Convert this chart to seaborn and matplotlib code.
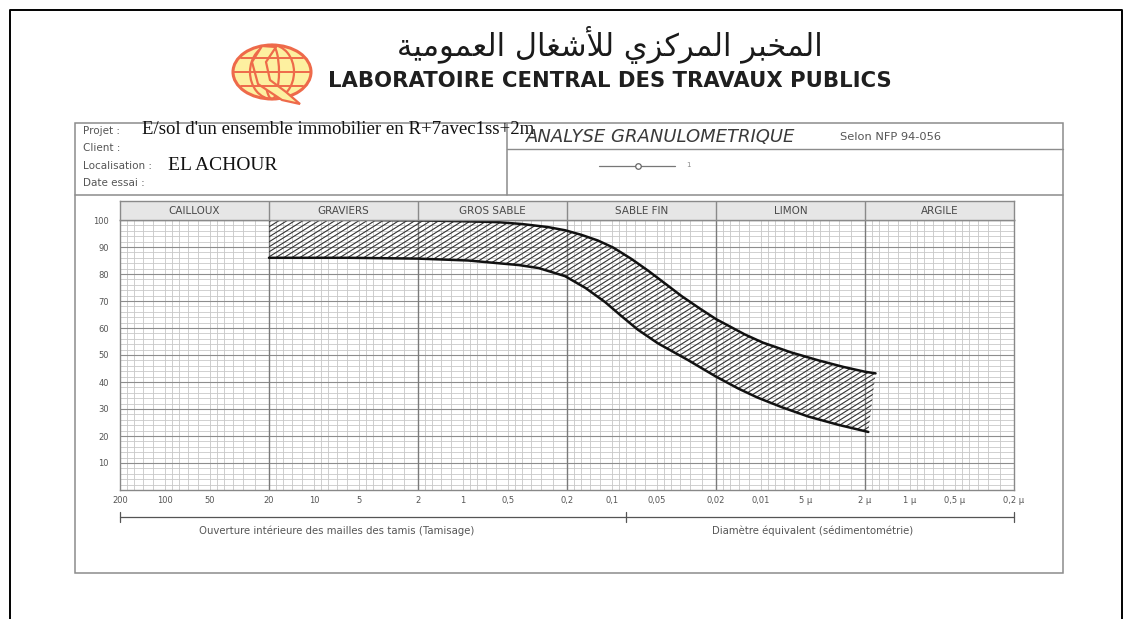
import numpy as np
import pandas as pd
import matplotlib
matplotlib.use("Agg")
import matplotlib.pyplot as plt
import seaborn as sns
from matplotlib.patches import Rectangle, Ellipse, Polygon
from matplotlib.collections import LineCollection
from matplotlib.ticker import NullLocator

# ---------------------------------------------------------------- data
# Grading envelope (fuseau granulométrique): sieve size in mm vs % passing
upper_size_mm = [20, 3.9, 1.7, 0.92, 0.58, 0.4, 0.27, 0.206, 0.16, 0.124, 0.098,
                 0.074, 0.057, 0.044, 0.034, 0.026, 0.02, 0.0128, 0.0097,
                 0.0063, 0.0041, 0.0028, 0.002, 0.0017]
upper_passing = [100, 100, 99.8, 99.5, 99.2, 98.5, 97.4, 96.2, 94.5, 92.4, 89.8,
                 85.6, 81.2, 76.5, 71.8, 67.4, 63.3, 57.6, 54.6,
                 51, 48, 45.6, 43.8, 43.2]

lower_size_mm = [20, 5.9, 2.0, 0.92, 0.58, 0.42, 0.31, 0.206, 0.15, 0.111, 0.087,
                 0.067, 0.049, 0.031, 0.02, 0.0142, 0.0105, 0.0071, 0.0048,
                 0.003, 0.0019]
lower_passing = [86, 86, 85.7, 85, 84, 83.3, 82.2, 79.2, 74.8, 69.6, 64.6,
                 59.4, 54.3, 48.2, 42, 37.6, 34.2, 30.5, 27.2,
                 24.1, 21.5]

class_names = ["CAILLOUX", "GRAVIERS", "GROS SABLE", "SABLE FIN", "LIMON", "ARGILE"]
class_bounds_mm = [200, 20, 2, 0.2, 0.02, 0.002, 0.0002]

size_ticks_mm = [200, 100, 50, 20, 10, 5, 2, 1, 0.5, 0.2, 0.1, 0.05, 0.02,
                 0.01, 0.005, 0.002, 0.001, 0.0005, 0.0002]
size_tick_labels = ["200", "100", "50", "20", "10", "5", "2", "1", "0,5", "0,2",
                    "0,1", "0,05", "0,02", "0,01", "5 µ", "2 µ", "1 µ", "0,5 µ", "0,2 µ"]
passing_ticks = [10, 20, 30, 40, 50, 60, 70, 80, 90, 100]
sieve_limit_mm = 0.08          # limit between sieving and sedimentometry

project_text = "E/sol d'un ensemble immobilier en R+7avec1ss+2m"
location_text = "EL ACHOUR"
lab_name_fr = "LABORATOIRE CENTRAL DES TRAVAUX PUBLICS"
lab_name_ar = "المخبر المركزي للأشغال العمومية"

# ------------------------------------------------- minimal Arabic shaping
# matplotlib does no contextual shaping, so map letters to presentation forms
FORMS = {  # isolated, final, initial, medial
    'ا': ('\uFE8D', '\uFE8E', None, None),
    'أ': ('\uFE83', '\uFE84', None, None),
    'ب': ('\uFE8F', '\uFE90', '\uFE91', '\uFE92'),
    'خ': ('\uFEA5', '\uFEA6', '\uFEA7', '\uFEA8'),
    'ر': ('\uFEAD', '\uFEAE', None, None),
    'ز': ('\uFEAF', '\uFEB0', None, None),
    'ش': ('\uFEB5', '\uFEB6', '\uFEB7', '\uFEB8'),
    'ع': ('\uFEC9', '\uFECA', '\uFECB', '\uFECC'),
    'غ': ('\uFECD', '\uFECE', '\uFECF', '\uFED0'),
    'ك': ('\uFED9', '\uFEDA', '\uFEDB', '\uFEDC'),
    'ل': ('\uFEDD', '\uFEDE', '\uFEDF', '\uFEE0'),
    'م': ('\uFEE1', '\uFEE2', '\uFEE3', '\uFEE4'),
    'ة': ('\uFE93', '\uFE94', None, None),
    'و': ('\uFEED', '\uFEEE', None, None),
    'ي': ('\uFEF1', '\uFEF2', '\uFEF3', '\uFEF4'),
}
LAM_ALEF = {'ا': ('\uFEFB', '\uFEFC'), 'أ': ('\uFEF7', '\uFEF8')}


def shape_word(word):
    units = []
    i = 0
    while i < len(word):
        if word[i] == 'ل' and i + 1 < len(word) and word[i + 1] in LAM_ALEF:
            units.append(('LA', word[i + 1]))
            i += 2
        else:
            units.append(('C', word[i]))
            i += 1
    out = []
    for k, (kind, ch) in enumerate(units):
        prev_joins = k > 0 and units[k - 1][0] == 'C' and FORMS[units[k - 1][1]][2] is not None
        has_next = k < len(units) - 1
        if kind == 'LA':
            out.append(LAM_ALEF[ch][1 if prev_joins else 0])
            continue
        iso, fin, ini, med = FORMS[ch]
        dual = ini is not None
        if prev_joins and has_next and dual:
            out.append(med)
        elif prev_joins:
            out.append(fin)
        elif has_next and dual:
            out.append(ini)
        else:
            out.append(iso)
    return "".join(reversed(out))


def shape_arabic(text):
    return " ".join(shape_word(w) for w in reversed(text.split(" ")))


# ---------------------------------------------------------------- figure
sns.set_theme(style="white")
plt.rcParams['font.family'] = ['DejaVu Sans']

W, H = 1130, 619
fig = plt.figure(figsize=(W / 100, H / 100), dpi=100)
fig.patch.set_facecolor("white")


def px_rect(left, top, right, bottom):
    return [left / W, 1 - bottom / H, (right - left) / W, (bottom - top) / H]


# page layer in pixel units for the printed form
page = fig.add_axes([0, 0, 1, 1], zorder=0)
page.set_xlim(0, W)
page.set_ylim(H, 0)
page.axis("off")

# outer frame
page.plot([9.5, 9.5, 1122, 1122], [H, 9.5, 9.5, H], color="black", lw=1.4)

# form box
form_col = "#8c8c8c"
page.add_patch(Rectangle((75, 123), 988, 450, fill=False, ec=form_col, lw=1.1))
page.plot([75, 1063], [195, 195], color=form_col, lw=1.1)
page.plot([507, 507], [123, 195], color=form_col, lw=1.1)
page.plot([507, 1063], [149, 149], color=form_col, lw=1.0)

# information fields
lab_col = "#555555"
page.text(83, 131, "Projet :", fontsize=7.5, color=lab_col, va="center")
page.text(142, 130, project_text, fontsize=13.5, family="Liberation Serif",
          color="#111111", va="center")
page.text(83, 148, "Client :", fontsize=7.5, color=lab_col, va="center")
page.text(83, 166, "Localisation :", fontsize=7.5, color=lab_col, va="center")
page.text(168, 165, location_text, fontsize=14, family="Liberation Serif",
          color="#111111", va="center")
page.text(83, 183, "Date essai :", fontsize=7.5, color=lab_col, va="center")

page.text(526, 137, "ANALYSE GRANULOMETRIQUE", fontsize=13, style="italic",
          color="#3a3a3a", va="center")
page.text(840, 137, "Selon NFP 94-056", fontsize=8.2, color=lab_col, va="center")
page.plot([599, 675], [166, 166], color="#777777", lw=0.9)
page.plot([638], [166], marker="o", ms=4, mfc="white", mec="#666666", mew=0.9)
page.text(688, 165, "1", fontsize=5, color="#888888", va="center", ha="center")

# laboratory header: logo + names
page.add_patch(Ellipse((272, 72), 78, 54, fc="#fdf0a0", ec="#ee6a4a", lw=2.2))
for w in (44, 14):
    page.add_patch(Ellipse((272, 72), w, 54, fill=False, ec="#ee6a4a", lw=1.6))
for yy, half in ((58, 31), (72, 39), (86, 31)):
    page.plot([272 - half, 272 + half], [yy, yy], color="#ee6a4a", lw=1.4)
page.add_patch(Polygon([(262, 46), (252, 62), (258, 84), (282, 100), (300, 104),
                        (286, 92), (270, 80), (266, 62), (276, 47)],
                       closed=True, fc="#fdf0a0", ec="#ee6a4a", lw=1.6))

page.text(610, 45, shape_arabic(lab_name_ar), fontsize=22, color="#1a1a1a",
          ha="center", va="center")
page.text(610, 81, lab_name_fr, fontsize=15.2, weight="bold", color="#1f1f1f",
          ha="center", va="center")

# ------------------------------------------------------------ main chart
ax = fig.add_axes(px_rect(120, 220, 1014, 490), zorder=2)
ax.set_xscale("log")
ax.set_xlim(class_bounds_mm[0], class_bounds_mm[-1])
ax.set_ylim(0, 100)
ax.set_facecolor("white")

# graph-paper grid
decade_steps = [1, 1.25, 1.5, 1.75, 2, 2.25, 2.5, 3, 3.5, 4, 4.5, 5, 6, 7, 8, 9]
for k in range(-4, 2):
    for m in decade_steps:
        ax.axvline(2 * m * 10.0 ** k, color="#c6c6c6", lw=0.6, zorder=0)
for v in range(2, 100, 2):
    ax.axhline(v, color="#c9c9c9", lw=0.6, zorder=0)
for v in range(10, 100, 10):
    ax.axhline(v, color="#8d8d8d", lw=0.8, zorder=0)
for b in class_bounds_mm[1:-1]:
    ax.axvline(b, color="#7a7a7a", lw=1.0, zorder=0)

# envelope fill with slanted hatching
env_x = np.r_[upper_size_mm, lower_size_mm[::-1]]
env_y = np.r_[upper_passing, lower_passing[::-1]]
env_patch = ax.fill(env_x, env_y, facecolor="none", edgecolor="none", lw=0)[0]

ax_w, ax_h = 894.0, 270.0
slope = np.tan(np.radians(32)) * ax_w / ax_h      # in axes-fraction units
step = 8.0 / ax_w
starts = np.arange(-1.0 / slope - step, 1.0 + step, step)
segs = [[(s, 0.0), (s + 1.0 / slope, 1.0)] for s in starts]
hatch = LineCollection(segs, transform=ax.transAxes, colors="#333333",
                       linewidths=0.8, zorder=2)
hatch.set_clip_path(env_patch)
ax.add_collection(hatch)

# envelope curves
upper_df = pd.DataFrame({"size": upper_size_mm, "passing": upper_passing})
lower_df = pd.DataFrame({"size": lower_size_mm, "passing": lower_passing})
sns.lineplot(data=upper_df.iloc[1:], x="size", y="passing", ax=ax,
             color="#111111", lw=1.8, zorder=3, sort=False)
sns.lineplot(data=lower_df, x="size", y="passing", ax=ax,
             color="#111111", lw=1.8, zorder=3, sort=False)

ax.set_xticks(size_ticks_mm)
ax.set_xticklabels(size_tick_labels)
ax.xaxis.set_minor_locator(NullLocator())
ax.set_yticks(passing_ticks)
ax.tick_params(axis="x", length=0, labelsize=6, labelcolor="#555555", pad=4.5)
ax.tick_params(axis="y", length=0, labelsize=6, labelcolor="#555555", pad=8)
ax.set_xlabel("")
ax.set_ylabel("")
for sp in ax.spines.values():
    sp.set_color("#888888")
    sp.set_linewidth(1.0)

# range bar: sieving vs sedimentometry
xt = ax.get_xaxis_transform()
bar_y = -0.1
ax.plot([class_bounds_mm[0], class_bounds_mm[-1]], [bar_y, bar_y], transform=xt,
        clip_on=False, color="#555555", lw=0.9)
for v in (class_bounds_mm[0], sieve_limit_mm, class_bounds_mm[-1]):
    ax.plot([v, v], [bar_y - 0.018, bar_y + 0.018], transform=xt, clip_on=False,
            color="#555555", lw=0.9)
ax.text(7.0, bar_y - 0.03, "Ouverture intérieure des mailles des tamis (Tamisage)",
        transform=xt, ha="center", va="top", fontsize=7.3, color="#555555")
ax.text(0.0045, bar_y - 0.03, "Diamètre équivalent (sédimentométrie)",
        transform=xt, ha="center", va="top", fontsize=7.3, color="#555555")

# soil-class header band
band = fig.add_axes(px_rect(120, 201, 1014, 220), zorder=2)
band.set_xscale("log")
band.set_xlim(class_bounds_mm[0], class_bounds_mm[-1])
band.set_ylim(0, 1)
band.set_facecolor("#e6e6e6")
for b in class_bounds_mm[1:-1]:
    band.axvline(b, color="#8a8a8a", lw=1.0)
for name, hi, lo in zip(class_names, class_bounds_mm[:-1], class_bounds_mm[1:]):
    band.text(np.sqrt(hi * lo), 0.5, name, ha="center", va="center",
              fontsize=7.5, color="#4a4a4a")
band.set_xticks([])
band.set_yticks([])
band.xaxis.set_minor_locator(NullLocator())
for sp in band.spines.values():
    sp.set_color("#8a8a8a")
    sp.set_linewidth(1.0)

fig.savefig("out.png", dpi=100, facecolor="white")
